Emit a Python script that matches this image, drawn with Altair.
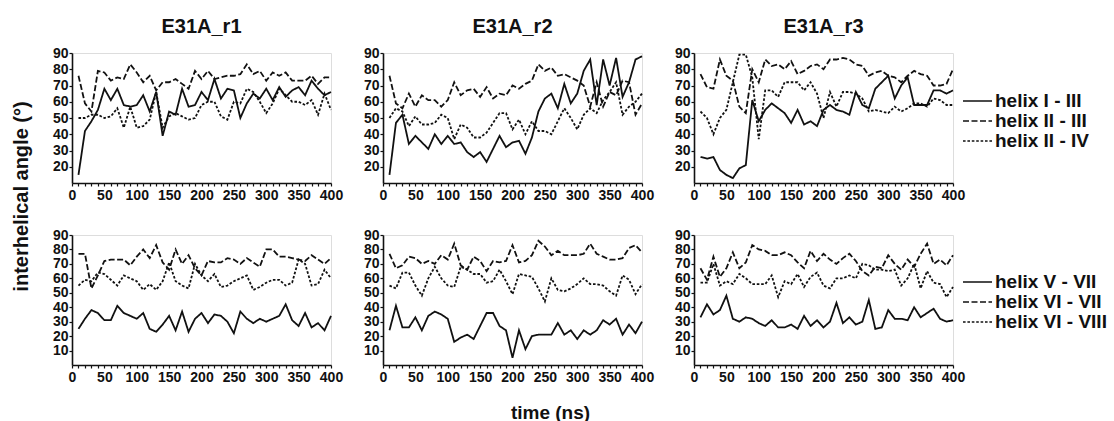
import altair as alt
import pandas as pd

FONT = "Liberation Sans"
INK = "#111111"

time_ns = list(range(10, 401, 10))

runs = ["E31A_r1", "E31A_r2", "E31A_r3"]
top_pairs = ["helix I - III", "helix II - III", "helix II - IV"]
bottom_pairs = ["helix V - VII", "helix VI - VII", "helix VI - VIII"]

# --- helices I-IV, replica 1 ---
r1_I_III = [15, 42, 48, 55, 68, 61, 68, 58, 57, 58, 64, 54, 66, 39, 54, 52, 68, 57, 58, 66,
            61, 74, 62, 68, 67, 50, 59, 65, 62, 68, 61, 69, 63, 67, 69, 64, 73, 68, 64, 66]
r1_II_III = [76, 59, 54, 79, 78, 73, 75, 74, 83, 78, 72, 76, 67, 72, 72, 74, 71, 68, 79, 74,
             79, 74, 75, 76, 76, 77, 83, 77, 79, 73, 78, 76, 78, 73, 73, 73, 76, 71, 75, 75]
r1_II_IV = [50, 50, 52, 52, 50, 51, 56, 44, 57, 44, 45, 49, 66, 44, 51, 53, 51, 49, 50, 58,
            60, 60, 51, 49, 60, 59, 68, 66, 60, 53, 59, 68, 64, 60, 60, 58, 61, 52, 65, 55]

# --- helices I-IV, replica 2 ---
r2_I_III = [15, 47, 52, 34, 39, 35, 31, 40, 34, 39, 34, 35, 29, 26, 29, 23, 31, 39, 32, 35,
            36, 28, 38, 54, 62, 65, 56, 71, 59, 65, 79, 86, 58, 86, 70, 87, 63, 72, 86, 88]
r2_II_III = [76, 59, 56, 65, 57, 64, 61, 61, 57, 61, 72, 64, 67, 68, 63, 69, 62, 65, 64, 70,
             68, 71, 73, 83, 79, 81, 76, 77, 75, 73, 70, 57, 72, 57, 66, 64, 73, 72, 52, 59]
r2_II_IV = [50, 56, 54, 45, 51, 46, 46, 47, 52, 50, 37, 46, 44, 38, 38, 41, 47, 53, 53, 43,
            49, 40, 48, 42, 42, 40, 48, 56, 50, 43, 52, 56, 53, 61, 66, 72, 52, 57, 60, 65]

# --- helices I-IV, replica 3 ---
r3_I_III = [26, 25, 26, 18, 15, 13, 19, 21, 61, 48, 55, 59, 56, 53, 47, 55, 46, 48, 45, 55,
            58, 55, 54, 52, 66, 58, 56, 68, 72, 76, 62, 70, 75, 58, 58, 58, 67, 67, 65, 67]
r3_II_III = [77, 69, 68, 86, 76, 73, 57, 53, 80, 72, 86, 82, 83, 80, 85, 77, 79, 82, 83, 80,
             86, 86, 87, 86, 83, 82, 76, 78, 79, 76, 75, 72, 76, 79, 77, 76, 70, 70, 71, 80]
r3_II_IV = [54, 50, 40, 50, 55, 72, 89, 89, 75, 37, 67, 67, 63, 72, 72, 72, 67, 72, 65, 50,
            66, 57, 66, 66, 65, 62, 54, 55, 54, 53, 57, 54, 56, 59, 59, 57, 62, 61, 58, 58]

# --- helices V-VIII, replica 1 ---
r1_V_VII = [25, 32, 38, 36, 31, 31, 41, 36, 34, 32, 36, 25, 23, 28, 34, 24, 37, 23, 32, 36,
            29, 35, 34, 30, 22, 37, 32, 29, 32, 30, 32, 34, 42, 31, 27, 36, 26, 29, 24, 34]
r1_VI_VII = [77, 77, 53, 62, 72, 73, 73, 73, 69, 75, 80, 74, 83, 71, 66, 80, 70, 76, 67, 62,
             72, 71, 71, 74, 73, 70, 74, 71, 68, 80, 80, 75, 75, 74, 73, 72, 76, 73, 70, 74]
r1_VI_VIII = [55, 59, 58, 64, 63, 59, 55, 62, 60, 58, 52, 56, 52, 58, 71, 58, 55, 53, 70, 62,
              58, 63, 54, 55, 58, 60, 62, 52, 54, 57, 59, 59, 55, 57, 73, 70, 55, 56, 66, 60]

# --- helices V-VIII, replica 2 ---
r2_V_VII = [24, 41, 26, 26, 33, 24, 34, 37, 35, 32, 16, 19, 21, 18, 27, 36, 36, 27, 24, 5,
            24, 11, 20, 21, 21, 21, 29, 21, 24, 18, 24, 21, 24, 31, 28, 32, 21, 28, 22, 30]
r2_VI_VII = [77, 67, 69, 75, 74, 70, 72, 70, 76, 73, 84, 69, 66, 75, 72, 65, 72, 71, 72, 83,
             71, 72, 76, 86, 82, 76, 79, 76, 76, 76, 77, 84, 77, 75, 73, 73, 74, 81, 83, 78]
r2_VI_VIII = [55, 53, 64, 64, 55, 48, 60, 68, 60, 55, 54, 68, 66, 63, 63, 57, 58, 66, 58, 49,
              63, 62, 61, 53, 44, 60, 52, 51, 53, 56, 60, 56, 56, 55, 51, 48, 62, 59, 49, 56]

# --- helices V-VIII, replica 3 ---
r3_V_VII = [33, 42, 35, 38, 48, 32, 30, 33, 32, 29, 27, 31, 26, 26, 28, 25, 34, 27, 31, 26,
            30, 43, 29, 33, 28, 30, 45, 25, 26, 38, 32, 32, 31, 40, 33, 36, 39, 32, 30, 31]
r3_VI_VII = [67, 59, 75, 61, 67, 78, 67, 71, 83, 80, 79, 76, 76, 78, 76, 71, 67, 79, 72, 77,
             73, 70, 74, 77, 72, 65, 62, 68, 67, 76, 70, 66, 73, 68, 77, 84, 70, 73, 69, 76]
r3_VI_VIII = [57, 57, 70, 55, 58, 56, 63, 60, 56, 56, 56, 62, 47, 58, 56, 63, 54, 61, 64, 55,
              53, 60, 60, 62, 60, 70, 69, 66, 66, 65, 66, 55, 60, 70, 53, 65, 57, 56, 47, 54]

top_series = [
    [r1_I_III, r1_II_III, r1_II_IV],
    [r2_I_III, r2_II_III, r2_II_IV],
    [r3_I_III, r3_II_III, r3_II_IV],
]
bottom_series = [
    [r1_V_VII, r1_VI_VII, r1_VI_VIII],
    [r2_V_VII, r2_VI_VII, r2_VI_VIII],
    [r3_V_VII, r3_VI_VII, r3_VI_VIII],
]

dash_patterns = [[1, 0], [6, 2.5], [2.6, 1.8]]
x_ticks = list(range(0, 401, 10))

tick_label_style = dict(
    labelFont=FONT,
    labelFontWeight="bold",
    labelFontSize=14,
    labelColor=INK,
    titleFont=FONT,
    titleFontWeight="bold",
    titleColor=INK,
    domainColor=INK,
    domainWidth=1.6,
    tickColor=INK,
    tickWidth=1.2,
    grid=False,
    tickSize=3,
)


def frame(series, pairs):
    rows = []
    for name, values in zip(pairs, series):
        for t, v in zip(time_ns, values):
            rows.append({"time": t, "angle": v, "pair": name})
    return pd.DataFrame(rows)


def panel(series, pairs, y_domain, y_values, title=None, y_title=None, x_title=None,
          show_legend=False, legend_y=0):
    x_axis = alt.Axis(
        values=x_ticks,
        labelExpr="datum.value % 50 == 0 ? datum.label : ''",
        labelFlush=False,
        labelOverlap=False,
        labelPadding=2,
        title=x_title if x_title else None,
        titleX=167,
        titleY=53,
        titleBaseline="alphabetic",
        titleFontSize=19,
        **tick_label_style,
    )
    y_axis = alt.Axis(
        values=y_values,
        labelPadding=1,
        title=y_title if y_title else None,
        titleX=-51,
        titleY=143,
        titleAngle=270,
        titleAlign="center",
        titleBaseline="middle",
        titleFontSize=20,
        **tick_label_style,
    )
    if show_legend:
        legend = alt.Legend(
            title=None,
            orient="none",
            legendX=268,
            legendY=legend_y,
            symbolType="stroke",
            symbolSize=841,
            symbolStrokeWidth=1.5,
            symbolStrokeColor=INK,
            labelFont=FONT,
            labelFontWeight="bold",
            labelFontSize=19,
            labelColor=INK,
            labelOffset=2,
            clipHeight=18,
            rowPadding=1,
        )
    else:
        legend = None
    ch = alt.Chart(frame(series, pairs)).mark_line(color=INK, strokeWidth=1.8).encode(
        x=alt.X("time:Q", scale=alt.Scale(domain=[0, 400], nice=False), axis=x_axis),
        y=alt.Y("angle:Q", scale=alt.Scale(domain=y_domain, nice=False, zero=False), axis=y_axis),
        strokeDash=alt.StrokeDash(
            "pair:N",
            scale=alt.Scale(domain=pairs, range=dash_patterns),
            legend=legend,
            sort=pairs,
        ),
        detail="pair:N",
    ).properties(width=259, height=130)
    if title:
        ch = ch.properties(title=alt.TitleParams(title, fontSize=20, font=FONT,
                                                 fontWeight="bold", color=INK, offset=9))
    return ch


panels = []
for i in range(3):
    panels.append(
        panel(top_series[i], top_pairs, [10, 90], list(range(20, 91, 10)), title=runs[i],
              y_title="interhelical angle (°)" if i == 0 else None,
              show_legend=(i == 2), legend_y=39)
    )
for i in range(3):
    panels.append(
        panel(bottom_series[i], bottom_pairs, [0, 90], list(range(10, 91, 10)),
              x_title="time (ns)" if i == 1 else None,
              show_legend=(i == 2), legend_y=38)
    )

chart = alt.concat(*panels, columns=3, spacing=52, bounds="flush").resolve_scale(
    strokeDash="independent"
).properties(
    padding={"left": 10, "top": 16, "right": 0, "bottom": 0},
).configure_view(stroke=None).configure(background="white")

chart.save("out.html", embed_options={"renderer": "svg", "actions": False})
